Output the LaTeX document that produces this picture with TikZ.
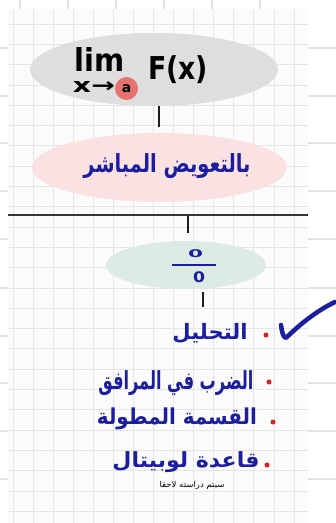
\documentclass[tikz,border=0pt]{standalone}
\usepackage{fontspec}
\usepackage{graphicx}
\usetikzlibrary{shapes.geometric}
\setmainfont{DejaVu Sans}
\newfontfamily\arabicfont[Script=Arabic]{DejaVu Sans}
\TeXXeTstate=1
\definecolor{inkblue}{RGB}{28,30,160}
\definecolor{paperc}{RGB}{251,251,251}
\definecolor{innerg}{RGB}{229,229,229}
\definecolor{outerg}{RGB}{226,226,226}
\definecolor{grayov}{RGB}{222,222,222}
\definecolor{pinkov}{RGB}{251,226,226}
\definecolor{greenov}{RGB}{220,235,228}
\definecolor{salmon}{RGB}{230,115,110}
\definecolor{dotred}{RGB}{220,30,30}
\definecolor{stub}{RGB}{30,30,30}
\tikzset{
  oval/.style={ellipse, draw=none, inner sep=0pt},
  stubline/.style={draw=stub, line width=2pt},
  bulletdot/.style={circle, fill=dotred, inner sep=0pt, minimum size=5pt},
  arabtext/.style={text=inkblue, inner sep=0pt},
  latin/.style={text=black, inner sep=0pt},
}
\begin{document}
\begin{tikzpicture}[x=1pt,y=-1pt]
\useasboundingbox (0,0) rectangle (336,523);
\fill[white] (0,0) rectangle (336,523);
% outer grid
\foreach \x in {20,68,116,164,212,260} \draw[outerg, line width=1.5pt] (\x,0) -- (\x,523);
\foreach \y in {48,96,143,191,239,288,336,383,431,479} \draw[outerg, line width=1.5pt] (0,\y) -- (336,\y);
% paper
\fill[paperc] (8,9) rectangle (308,523);
\foreach \k in {0,...,14} \draw[innerg, line width=0.8pt] ({13+20.07*\k},9) -- ({13+20.07*\k},523);
\foreach \k in {0,...,24} \draw[innerg, line width=0.8pt] (8,{24+20.3*\k}) -- (308,{24+20.3*\k});

% ovals
\node[oval, fill=grayov, minimum width=248pt, minimum height=73pt] (limov) at (154,69.5) {};
\node[oval, fill=pinkov, minimum width=255pt, minimum height=69pt] (subov) at (159.5,167.5) {};
\node[oval, fill=greenov, minimum width=160pt, minimum height=48pt] (fracov) at (186,265) {};

% limit expression
\node[latin] (lim) at (100,59.5) {\resizebox*{50pt}{24pt}{\bfseries lim}};
\node[latin] (xto) at (94,87) {\resizebox*{42pt}{11pt}{\bfseries x→}};
\node[circle, fill=salmon, minimum size=23pt, inner sep=0pt, font=\bfseries\fontsize{14}{14}\selectfont] (acirc) at (126.5,88.5) {a};
\node[latin] (fx) at (178,70) {\resizebox*{60pt}{28pt}{\bfseries F(x)}};

% stubs
\coordinate (s1a) at (159,106); \coordinate (s1b) at (159,127);
\draw[stubline] (s1a) -- (s1b);
\coordinate (s2a) at (188,215); \coordinate (s2b) at (188,233);
\draw[stubline, line width=2.5pt] (s2a) -- (s2b);
\coordinate (s3a) at (203,292); \coordinate (s3b) at (203,307);
\draw[stubline] (s3a) -- (s3b);

% divider
\coordinate (divl) at (8,215); \coordinate (divr) at (308,215);
\draw[stub!90, line width=2pt] (divl) -- (divr);

% direct substitution
\node[arabtext] (subst) at (167,166) {\resizebox*{167pt}{25pt}{\arabicfont\bfseries\beginR بالتعويض المباشر\endR}};

% fraction 0/0
\node[arabtext] (num) at (195.5,254) {\resizebox*{15pt}{8pt}{\bfseries 0}};
\coordinate (barl) at (172,265); \coordinate (barr) at (216,265);
\draw[inkblue, line width=2pt] (barl) -- (barr);
\node[arabtext] (den) at (199,277.5) {\resizebox*{12pt}{11pt}{\bfseries 0}};

% check mark
\coordinate (c1) at (281,325); \coordinate (c2) at (286,338); \coordinate (c3) at (335,302);
\draw[inkblue, line width=4.5pt, line cap=round, line join=round]
  (c1) .. controls (282,332) and (283,337) .. (c2) .. controls (300,324) and (318,310) .. (c3);

% bullets
\node[bulletdot] (b1) at (266,335) {};
\node[bulletdot] (b2) at (269,382) {};
\node[bulletdot] (b3) at (273,422) {};
\node[bulletdot] (b4) at (267,465) {};

\node[arabtext] (t1) at (210,333) {\resizebox*{75pt}{20pt}{\arabicfont\bfseries\beginR التحليل\endR}};
\node[arabtext] (t2) at (176,383) {\resizebox*{155pt}{25pt}{\arabicfont\bfseries\beginR الضرب في المرافق\endR}};
\node[arabtext] (t3) at (177,418.5) {\resizebox*{160pt}{22pt}{\arabicfont\bfseries\beginR القسمة المطولة\endR}};
\node[arabtext] (t4) at (186,462.5) {\resizebox*{147pt}{21pt}{\arabicfont\bfseries\beginR قاعدة لوبيتال\endR}};
\node[latin] (later) at (192,485.5) {\resizebox*{65pt}{8pt}{\arabicfont\beginR سيتم دراسته لاحقا\endR}};
\end{tikzpicture}
\end{document}
